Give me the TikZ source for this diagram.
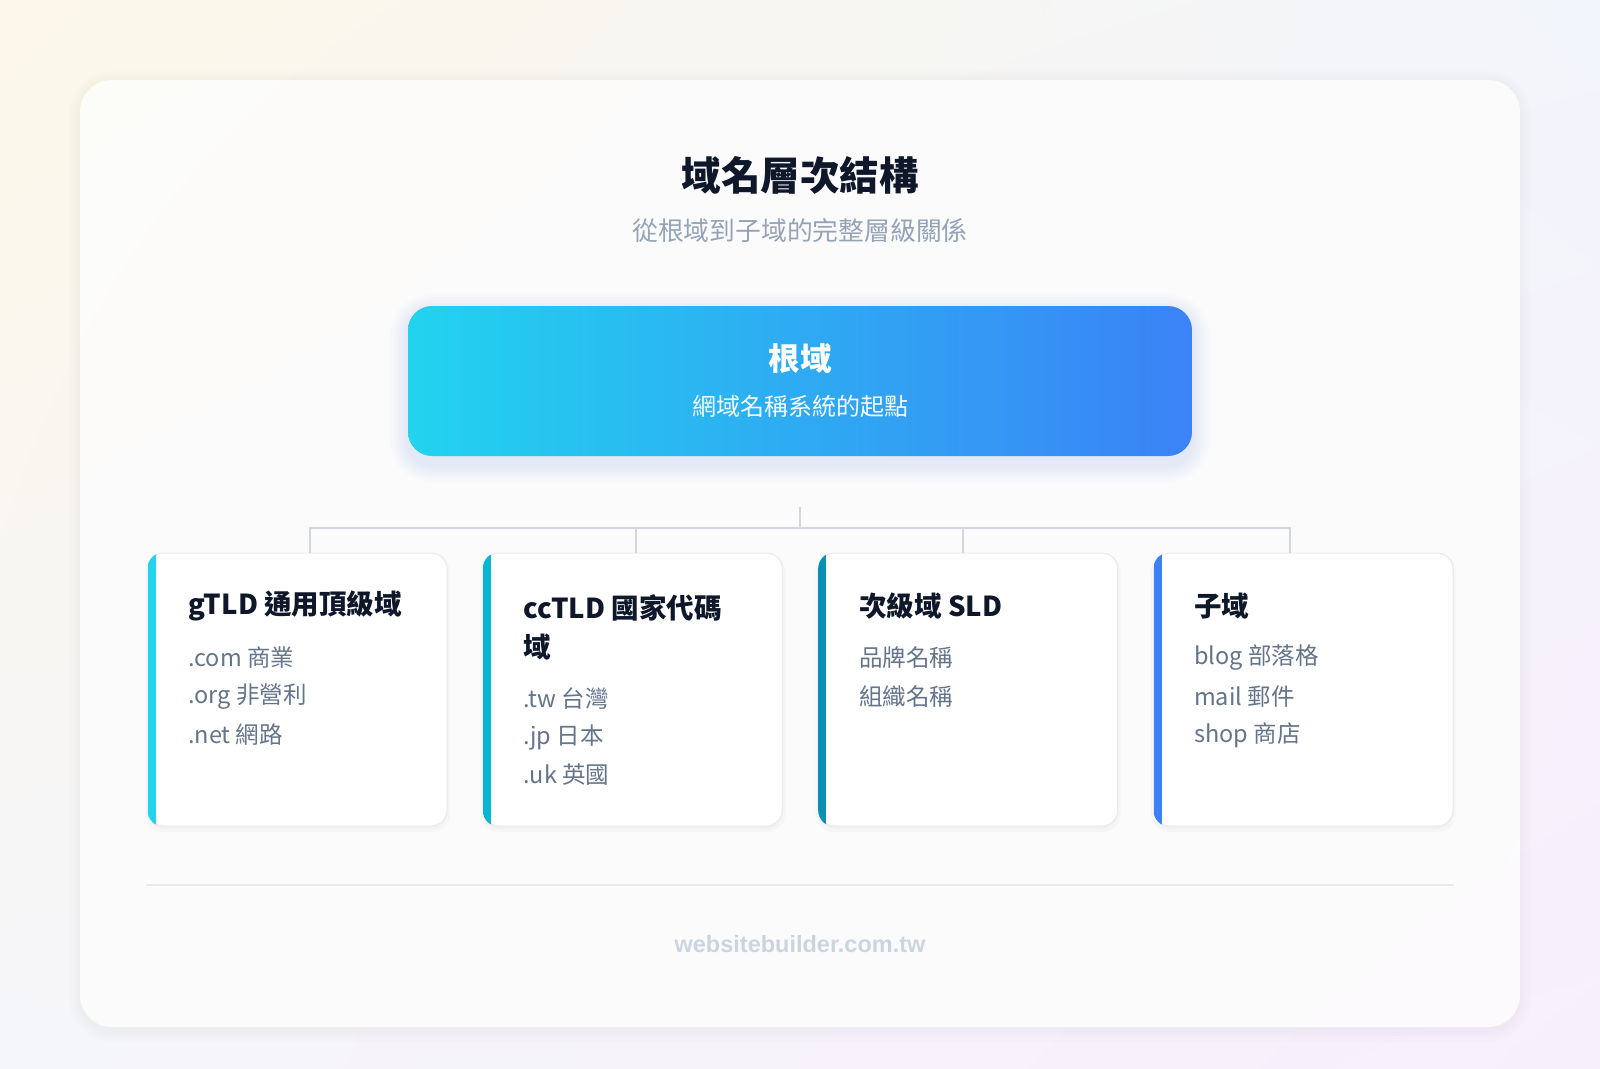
\documentclass[tikz,border=0pt]{standalone}
\usepackage{fontspec}
\usetikzlibrary{shadings}
\setmainfont{Noto Sans CJK TC}
\newfontfamily\footfont{Liberation Sans}
\definecolor{bgTL}{HTML}{FCF7E8}
\definecolor{bgTR}{HTML}{F2F5FB}
\definecolor{bgBL}{HTML}{F5F6FA}
\definecolor{bgBR}{HTML}{F8EFFC}
\definecolor{titlec}{HTML}{0F172A}
\definecolor{subc}{HTML}{94A3B8}
\definecolor{itemc}{HTML}{64748B}
\definecolor{footc}{HTML}{CBD5E1}
\definecolor{connc}{HTML}{D4D7DD}
\definecolor{cardline}{HTML}{E8EAEE}
\definecolor{sepc}{HTML}{E5E9F0}
\definecolor{barA}{HTML}{22D3EE}
\definecolor{barB}{HTML}{06B6D4}
\definecolor{barC}{HTML}{0891B2}
\definecolor{barD}{HTML}{3B82F6}
\definecolor{rootL}{HTML}{22D3EE}
\definecolor{rootR}{HTML}{3B82F6}
\tikzset{
  cardbox/.style={draw=cardline, line width=1pt, fill=white, rounded corners=16pt,
    minimum width=299pt, minimum height=273pt, inner sep=0pt},
  conn/.style={draw=connc, line width=2pt},
  cardtitle/.style={anchor=west, inner sep=0pt, text=titlec,
    font=\fontsize{27.5}{39}\selectfont\bfseries, align=left},
  itemtext/.style={anchor=west, inner sep=0pt, text=itemc,
    font=\fontsize{23.5}{30}\selectfont},
  cardshadow/.style={fill=black, opacity=0.02, rounded corners=18pt},
}
\begin{document}
\begin{tikzpicture}[x=1pt,y=-1pt]
\useasboundingbox (0,0) rectangle (1600,1068);
% page background
\shade[upper left=bgTL, upper right=bgTR, lower left=bgBL, lower right=bgBR]
  (0,0) rectangle (1600,1068);
% outer panel soft shadow + panel
\foreach \s in {2,5,8,11}{
  \fill[black, opacity=0.008, rounded corners=32pt+\s pt] (80-\s,82-\s) rectangle (1520+\s,1031+\s);
}
\fill[white, opacity=0.82, rounded corners=32pt] (80,80) rectangle (1520,1027);

% title
\node[font=\fontsize{39.5}{44}\selectfont\bfseries, text=titlec] (title) at (800,175) {域名層次結構};
\node[font=\fontsize{25.8}{30}\selectfont, text=subc] (subtitle) at (800,231) {從根域到子域的完整層級關係};

% root box with soft bluish shadow
\foreach \s in {3,6,9,12,15,18}{
  \fill[rootR, opacity=0.018, rounded corners=24pt+\s pt] (408-\s,312-\s) rectangle (1192+\s,464+\s);
}
\shade[rounded corners=24pt, left color=rootL, right color=rootR] (408,306) rectangle (1192,456);
\node[minimum width=784pt, minimum height=150pt, inner sep=0pt] (root) at (800,381) {};
\node[font=\fontsize{31.5}{36}\selectfont\bfseries, text=white] (rootT) at (800,359) {根域};
\node[font=\fontsize{24}{28}\selectfont, text=white, opacity=0.95] (rootS) at (800,406) {網域名稱系統的起點};

% cards
\foreach \l in {148,483.3,818.7,1154}{
  \fill[cardshadow] (\l-3,553) rectangle (\l+302,832);
  \fill[cardshadow] (\l-1,554) rectangle (\l+300,829);
}
\node[cardbox] (c1) at (297.5,689.5) {};
\node[cardbox] (c2) at (632.8,689.5) {};
\node[cardbox] (c3) at (968.2,689.5) {};
\node[cardbox] (c4) at (1303.5,689.5) {};
\foreach \c/\col in {c1/barA,c2/barB,c3/barC,c4/barD}{
  \begin{scope}
    \clip[rounded corners=16pt] (\c.north west) rectangle (\c.south east);
    \fill[\col] (\c.north west) rectangle ([xshift=8pt]\c.south west);
  \end{scope}
}

% connectors
\coordinate (hub) at (800,507);
\coordinate (junc) at (800,528);
\coordinate (d1) at (310,528);
\coordinate (d2) at (636,528);
\coordinate (d3) at (963,528);
\coordinate (d4) at (1290,528);
\draw[conn] (hub) -- (junc);
\draw[conn, line cap=rect] (d1) -- (d4);
\draw[conn] (d1) -- (d1 |- c1.north);
\draw[conn] (d2) -- (d2 |- c2.north);
\draw[conn] (d3) -- (d3 |- c3.north);
\draw[conn] (d4) -- (d4 |- c4.north);

% card 1
\node[cardtitle] (t1) at (188,606) {gTLD 通用頂級域};
\node[itemtext] (i11) at (188,658) {.com 商業};
\node[itemtext] (i12) at (188,697) {.org 非營利};
\node[itemtext] (i13) at (188,735) {.net 網路};
% card 2
\node[cardtitle] (t2) at (523,627) {ccTLD 國家代碼\\域};
\node[itemtext] (i21) at (523,699) {.tw 台灣};
\node[itemtext] (i22) at (523,737) {.jp 日本};
\node[itemtext] (i23) at (523,775) {.uk 英國};
% card 3
\node[cardtitle] (t3) at (859,606) {次級域 SLD};
\node[itemtext] (i31) at (859,658) {品牌名稱};
\node[itemtext] (i32) at (859,697) {組織名稱};
% card 4
\node[cardtitle] (t4) at (1194,606) {子域};
\node[itemtext] (i41) at (1194,658) {blog 部落格};
\node[itemtext] (i42) at (1194,697) {mail 郵件};
\node[itemtext] (i43) at (1194,735) {shop 商店};

% separator and footer
\coordinate (sepL) at (146,885);
\coordinate (sepR) at (1454,885);
\draw[sepc, line width=2pt] (sepL) -- (sepR);
\node[font=\fontsize{23.5}{28}\selectfont\footfont\bfseries, text=footc] (foot) at (800,944) {websitebuilder.com.tw};
\end{tikzpicture}
\end{document}
